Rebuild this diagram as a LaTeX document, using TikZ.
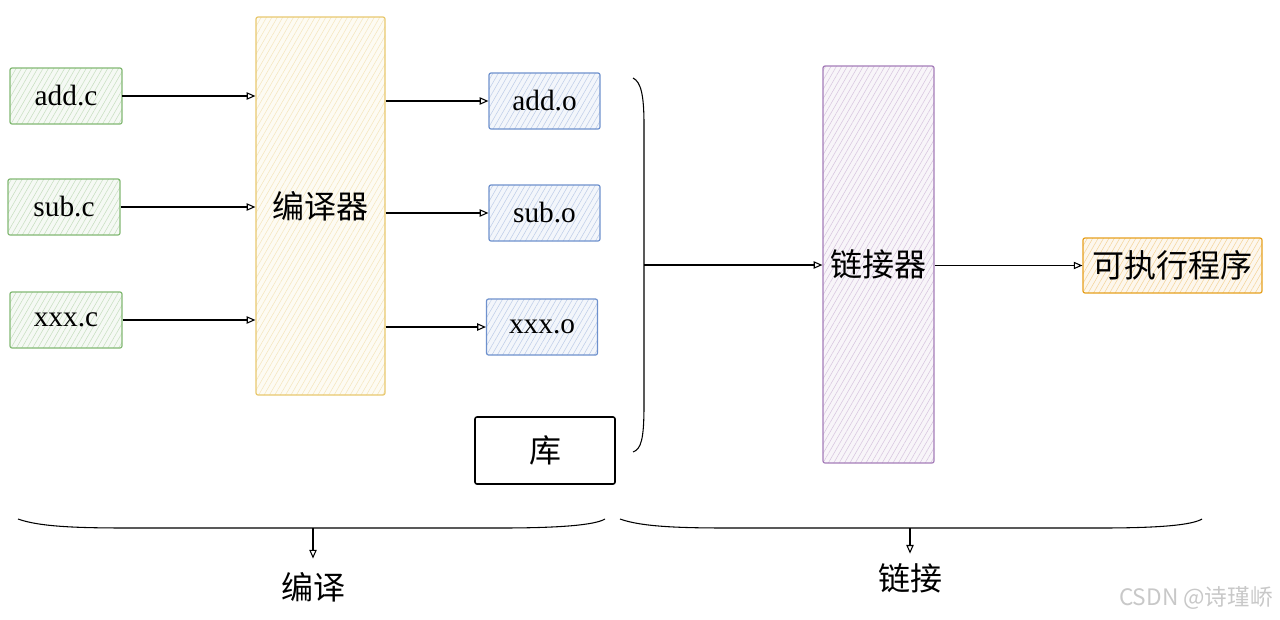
\documentclass[tikz,border=0pt]{standalone}
\usepackage{fontspec}
\setmainfont{Liberation Serif}
\newfontfamily\cjk{Noto Sans CJK SC}
\usetikzlibrary{arrows.meta,patterns.meta}

\definecolor{srcgreen}{RGB}{130,185,115}
\definecolor{cmpyellow}{RGB}{232,200,110}
\definecolor{objblue}{RGB}{110,145,205}
\definecolor{lnkpurple}{RGB}{165,125,185}
\definecolor{exeorange}{RGB}{230,160,30}
\definecolor{wmgray}{RGB}{200,200,200}

\tikzset{
  box/.style={draw=#1, line width=0.9pt, rounded corners=1.5pt, inner sep=0pt,
    preaction={fill=#1!8},
    pattern={Lines[angle=60,distance=3.5pt,line width=0.4pt]},
    pattern color=#1!45},
  srcbox/.style={box=srcgreen, minimum width=84pt, minimum height=42pt,
    font=\fontsize{22}{25}\selectfont},
  objbox/.style={box=objblue, minimum width=83.25pt, minimum height=42pt,
    font=\fontsize{22}{25}\selectfont},
  cjkfont/.style={font=\cjk\fontsize{24}{28}\selectfont},
  arr/.style={-{Triangle[open,length=6.5pt,width=5.5pt]}, line width=0.8pt},
  brace/.style={line width=0.8pt},
}

\begin{document}
\begin{tikzpicture}[x=0.75pt,y=-0.75pt]
\useasboundingbox (0,0) rectangle (1280,619);

% source files
\node[srcbox] (addc) at (66,96) {add.c};
\node[srcbox] (subc) at (64,207) {sub.c};
\node[srcbox] (xxxc) at (66,320) {xxx.c};

% compiler
\node[box=cmpyellow, minimum width=96.75pt, minimum height=283.5pt, cjkfont]
  (comp) at (320.5,206) {编译器};

% object files
\node[objbox] (addo) at (544.5,101) {add.o};
\node[objbox] (subo) at (544.5,213) {sub.o};
\node[objbox] (xxxo) at (542,327) {xxx.o};

% library
\node[draw=black, line width=1.2pt, rounded corners=1.5pt, minimum width=105pt,
  minimum height=50.25pt, cjkfont] (lib) at (545,450.5) {库};

% linker
\node[box=lnkpurple, minimum width=83.25pt, minimum height=297.75pt, cjkfont]
  (lnk) at (878.5,264.5) {链接器};

% executable
\node[box=exeorange, minimum width=134.25pt, minimum height=41.25pt, cjkfont]
  (exe) at (1172.5,265.5) {可执行程序};

% compile edges
\draw[arr] (addc.east) -- (addc.east -| comp.west);
\draw[arr] (subc.east) -- (subc.east -| comp.west);
\draw[arr] (xxxc.east) -- (xxxc.east -| comp.west);
\draw[arr] (comp.east |- addo.west) -- (addo.west);
\draw[arr] (comp.east |- subo.west) -- (subo.west);
\draw[arr] (comp.east |- xxxo.west) -- (xxxo.west);

% brace gathering objects and library
\draw[brace] (633,78) .. controls (641,82) and (644,95) .. (644,125)
  -- (644,405) .. controls (644,440) and (641,449) .. (633,452);
\coordinate (objmid) at (644,265);
\draw[arr] (objmid) -- (lnk.west |- objmid);
\draw[arr] (lnk.east |- exe.west) -- (exe.west);

% stage labels
\node[cjkfont, inner sep=0pt] (stc) at (313,587) {编译};
\node[cjkfont, inner sep=0pt] (stl) at (910,578) {链接};

\draw[brace] (18,519) .. controls (40,527) and (80,528) .. (130,528)
  -- (500,528) .. controls (560,528) and (595,525) .. (605,519);
\coordinate (bc) at (313,528);
\draw[arr, shorten >=10pt] (bc) -- (stc.north);

\draw[brace] (620,519) .. controls (642,527) and (682,528) .. (730,528)
  -- (1100,528) .. controls (1160,528) and (1192,525) .. (1202,519);
\coordinate (bl) at (910,528);
\draw[arr, shorten >=7pt] (bl) -- (stl.north);

% watermark
\node[font=\cjk\fontsize{17}{20}\selectfont, text=wmgray] (wm) at (1196,598) {CSDN @诗瑾峤};
\end{tikzpicture}
\end{document}
